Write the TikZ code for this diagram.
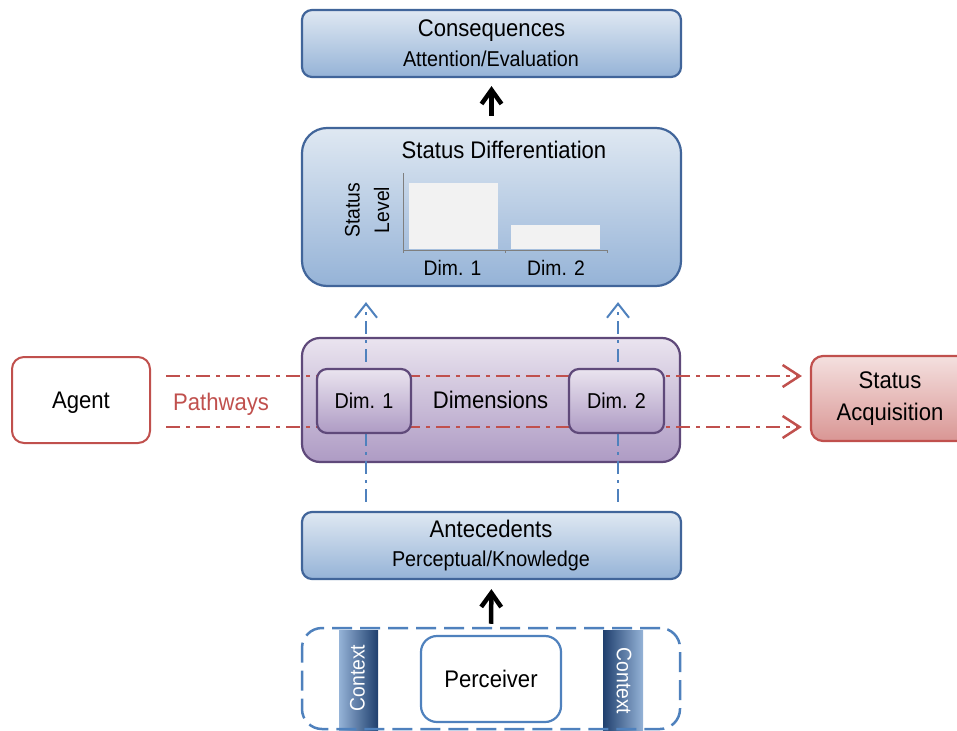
\documentclass[tikz,border=0pt]{standalone}
\usepackage{fontspec}
\setmainfont{Liberation Sans}[FakeStretch=0.92]
\usetikzlibrary{arrows.meta}
\definecolor{bluetop}{HTML}{DFE8F2}
\definecolor{bluebot}{HTML}{95B3D7}
\definecolor{blueedge}{HTML}{41659A}
\definecolor{purtop}{HTML}{EAE4EF}
\definecolor{purbot}{HTML}{AE9BC4}
\definecolor{puredge}{HTML}{5F497A}
\definecolor{redtop}{HTML}{F4E0DF}
\definecolor{redbot}{HTML}{D99694}
\definecolor{rededge}{HTML}{C0504D}
\definecolor{lineblue}{HTML}{4F81BD}
\definecolor{navy}{HTML}{1F3F6E}
\definecolor{barfill}{HTML}{F2F2F2}
\definecolor{axisgray}{HTML}{7F7F7F}
\tikzset{
  bluebox/.style={draw=blueedge, line width=2.2pt, top color=bluetop, bottom color=bluebot, inner sep=0pt},
  purbox/.style={draw=puredge, line width=2.2pt, top color=purtop, bottom color=purbot, inner sep=0pt},
  redbox/.style={draw=rededge, line width=2.2pt, top color=redtop, bottom color=redbot, inner sep=0pt, rounded corners=12pt},
  bigtxt/.style={font=\fontsize{24}{28}\selectfont, inner sep=0pt},
  subtxt/.style={font=\fontsize{21.5}{26}\selectfont, inner sep=0pt},
  axtxt/.style={font=\fontsize{21}{25}\selectfont, inner sep=0pt},
  blackarrow/.style={line width=4.5pt, -{Straight Barb[length=14pt,width=20pt]}},
  bluearrow/.style={draw=lineblue, line width=2pt, dash pattern=on 13pt off 6pt on 3pt off 6pt, -{Straight Barb[length=14pt,width=22pt]}},
  redarrow/.style={draw=rededge, line width=2.5pt, dash pattern=on 14pt off 6pt on 4pt off 6pt, -{Straight Barb[length=17pt,width=22pt]}},
}
\begin{document}
\begin{tikzpicture}[x=1pt,y=-1pt]
\useasboundingbox (0,0) rectangle (957,730);
\clip (0,0) rectangle (957,730);

% top box
\node[bluebox, rounded corners=10pt, minimum width=379pt, minimum height=67pt] (cons) at (491.5,43.5) {};
\node[bigtxt, anchor=base] (consT) at (491.5,37) {Consequences};
\node[subtxt, anchor=base] (consS) at (491,66.5) {Attention/Evaluation};

% status differentiation
\node[bluebox, rounded corners=25pt, minimum width=379pt, minimum height=158pt] (sd) at (491.5,207) {};
\node[bigtxt, anchor=base] (sdT) at (504,158) {Status Differentiation};
\fill[barfill] (409,183) rectangle (498,248.5);
\fill[barfill] (511,224.5) rectangle (600,248.5);
\draw[axisgray, line width=1pt] (403.5,173) -- (403.5,250) -- (607,250);
\draw[axisgray, line width=1pt] (403.5,250) -- (403.5,253) (505,250) -- (505,253) (607,250) -- (607,253);
\node[axtxt, anchor=base] (lab1) at (452.5,275) {Dim. 1};
\node[axtxt, anchor=base] (lab2) at (556,275) {Dim. 2};
\node[axtxt, rotate=90] (ylab1) at (352.5,210) {Status};
\node[axtxt, rotate=90] (ylab2) at (381.5,210) {Level};

\draw[blackarrow] (sd.north) -- (cons.south) [shorten <=11pt, shorten >=8pt];

% antecedents
\node[bluebox, rounded corners=10pt, minimum width=379pt, minimum height=67pt] (ante) at (491.5,545.5) {};
\node[bigtxt, anchor=base] (anteT) at (491,537.3) {Antecedents};
\node[subtxt, anchor=base] (anteS) at (491,566.5) {Perceptual/Knowledge};

% agent and status acquisition
\node[draw=rededge, line width=2pt, fill=white, rounded corners=12pt, minimum width=138pt, minimum height=86pt, bigtxt, text depth=0pt] (agent) at (81,400) {Agent};
\node[redbox, minimum width=158pt, minimum height=85pt, font=\fontsize{24}{32.5}\selectfont, align=center] (sa) at (890,398.5) {Status\\Acquisition};
\node[bigtxt, anchor=base, text=rededge] (path) at (221,410) {Pathways};

% dimensions
\node[purbox, rounded corners=18pt, minimum width=378pt, minimum height=124pt] (dims) at (491,400) {};
\node[bigtxt, anchor=base] (dimsT) at (490.5,408) {Dimensions};

% blue dash-dot arrows
\draw[bluearrow, shorten <=9pt, shorten >=15pt] ([xshift=-125.5pt]ante.north) -- ([xshift=-125.5pt]sd.south);
\draw[bluearrow, shorten <=9pt, shorten >=15pt] ([xshift=126.5pt]ante.north) -- ([xshift=126.5pt]sd.south);

% red dash-dot arrows
\coordinate (r1) at ([yshift=24pt]agent.east);
\coordinate (r2) at ([yshift=-27pt]agent.east);
\draw[redarrow, shorten <=15pt, shorten >=8pt] (r1) -- (r1 -| sa.west);
\draw[redarrow, shorten <=15pt, shorten >=8pt] (r2) -- (r2 -| sa.west);

\node[purbox, rounded corners=10pt, minimum width=94pt, minimum height=64pt, bigtxt, font=\fontsize{21.5}{26}\selectfont] (d1) at (364,401) {Dim. 1};
\node[purbox, rounded corners=10pt, minimum width=95pt, minimum height=64pt, bigtxt, font=\fontsize{21.5}{26}\selectfont] (d2) at (616.5,401) {Dim. 2};

% context / perceiver
\shade[left color=bluebot, right color=navy] (339,630) rectangle (378,732);
\shade[left color=navy, right color=bluebot] (603,630) rectangle (643,732);
\node[axtxt, rotate=90, text=white] (ctxL) at (357.5,678) {Context};
\node[axtxt, rotate=-90, text=white] (ctxR) at (624,681) {Context};
\node[draw=lineblue, line width=2.5pt, dash pattern=on 20pt off 8pt, rounded corners=20pt, minimum width=378pt, minimum height=101pt] (ctx) at (491,678.5) {};
\node[draw=lineblue, line width=2.2pt, fill=white, rounded corners=16pt, minimum width=140pt, minimum height=86pt, bigtxt] (perc) at (491,679) {Perceiver};

\draw[blackarrow] (ctx.north) -- (ante.south) [shorten <=3pt, shorten >=9pt];
\end{tikzpicture}
\end{document}
